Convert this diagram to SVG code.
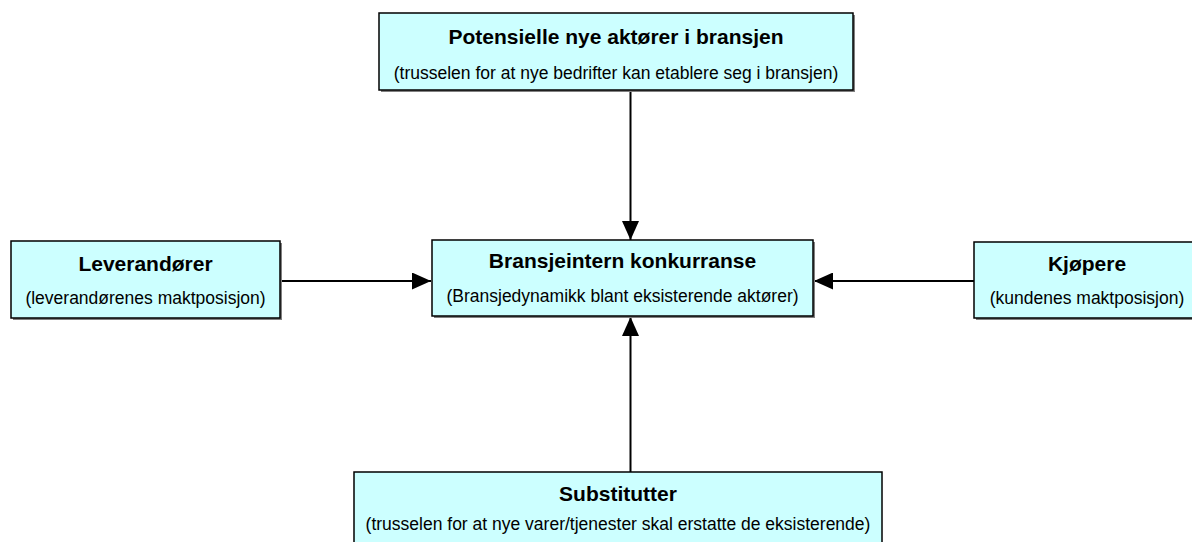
<svg xmlns="http://www.w3.org/2000/svg" width="1192" height="542" viewBox="0 0 1192 542">
<defs>
<style>
.box{fill:#CCFFFF;stroke:#000;stroke-width:1.5}
.sh{fill:#808080}
.t{font-family:"Liberation Sans",Arial,sans-serif;font-size:21px;font-weight:bold;fill:#000;text-anchor:middle}
.s{font-family:"Liberation Sans",Arial,sans-serif;font-size:17.5px;fill:#000;text-anchor:middle}
.c{stroke:#000;stroke-width:2;fill:none;marker-end:url(#ah)}
</style>
<marker id="ah" markerUnits="userSpaceOnUse" markerWidth="19" markerHeight="17" refX="19" refY="8.5" orient="auto">
<path d="M0,0 L19,8.5 L0,17 Z" fill="#000"/>
</marker>
</defs>
<rect width="1192" height="542" fill="#fff"/>
<g id="connectors">
<line class="c" x1="630.5" y1="90" x2="630.5" y2="240"/>
<line class="c" x1="280" y1="281" x2="431" y2="281"/>
<line class="c" x1="974" y1="281" x2="814" y2="281"/>
<line class="c" x1="630.5" y1="472" x2="630.5" y2="317"/>
</g>
<g id="potensielle">
<rect class="sh" x="381" y="15" width="474" height="77"/>
<rect class="box" x="379" y="13" width="474" height="77"/>
<text class="t" x="616" y="44">Potensielle nye aktører i bransjen</text>
<text class="s" x="616" y="79">(trusselen for at nye bedrifter kan etablere seg i bransjen)</text>
</g>
<g id="bransjeintern">
<rect class="sh" x="434" y="242" width="381" height="76"/>
<rect class="box" x="432" y="240" width="381" height="76"/>
<text class="t" x="622.5" y="268">Bransjeintern konkurranse</text>
<text class="s" x="622.5" y="302">(Bransjedynamikk blant eksisterende aktører)</text>
</g>
<g id="leverandorer">
<rect class="sh" x="13" y="243" width="269" height="77"/>
<rect class="box" x="11" y="241" width="269" height="77"/>
<text class="t" x="145.5" y="271">Leverandører</text>
<text class="s" x="145.5" y="304">(leverandørenes maktposisjon)</text>
</g>
<g id="kjopere">
<rect class="sh" x="976" y="244" width="226" height="76"/>
<rect class="box" x="974" y="242" width="226" height="76"/>
<text class="t" x="1087" y="271">Kjøpere</text>
<text class="s" x="1087" y="304">(kundenes maktposisjon)</text>
</g>
<g id="substitutter">
<rect class="box" x="354" y="472" width="528" height="80"/>
<text class="t" x="618" y="501">Substitutter</text>
<text class="s" x="618" y="530">(trusselen for at nye varer/tjenester skal erstatte de eksisterende)</text>
</g>
</svg>
